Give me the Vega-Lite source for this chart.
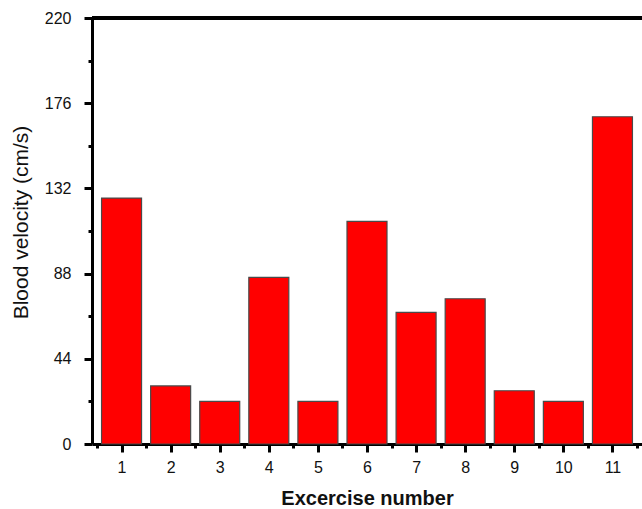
{
  "$schema": "https://vega.github.io/schema/vega-lite/v6.json",
  "width": 550,
  "height": 426,
  "autosize": {"type": "none"},
  "padding": {"left": 92, "top": 18, "right": 0, "bottom": 65},
  "background": "white",
  "config": {"view": {"stroke": null}, "font": "Liberation Sans"},
  "data": {"values": [
    {"exercise": 1, "velocity": 127},
    {"exercise": 2, "velocity": 30},
    {"exercise": 3, "velocity": 22},
    {"exercise": 4, "velocity": 86},
    {"exercise": 5, "velocity": 22},
    {"exercise": 6, "velocity": 115},
    {"exercise": 7, "velocity": 68},
    {"exercise": 8, "velocity": 75},
    {"exercise": 9, "velocity": 27.5},
    {"exercise": 10, "velocity": 22},
    {"exercise": 11, "velocity": 169}
  ]},
  "layer": [
    {
      "mark": {"type": "bar", "size": 40, "fill": "#ff0000", "stroke": "#4a4a4a", "strokeWidth": 1.2},
      "encoding": {
        "x": {
          "field": "exercise", "type": "quantitative",
          "scale": {"domain": [0.5, 11.5], "nice": false, "zero": false},
          "axis": {
            "title": "Excercise number",
            "titleFontSize": 20, "titleFontWeight": "bold", "titleColor": "#111", "titlePadding": 13,
            "values": [0.5, 1, 1.5, 2, 2.5, 3, 3.5, 4, 4.5, 5, 5.5, 6, 6.5, 7, 7.5, 8, 8.5, 9, 9.5, 10, 10.5, 11, 11.5],
            "labelExpr": "datum.value % 1 === 0 ? datum.value : ''",
            "tickSize": {"condition": {"test": "datum.value % 1 === 0", "value": 8}, "value": 4},
            "tickWidth": 3, "tickColor": "#000",
            "domainWidth": 3, "domainColor": "#000",
            "labelFontSize": 16, "labelColor": "#111", "labelPadding": 7,
            "grid": false, "labelFlush": false, "labelOverlap": false
          }
        },
        "y": {
          "field": "velocity", "type": "quantitative",
          "scale": {"domain": [0, 220], "nice": false},
          "axis": {
            "title": "Blood velocity (cm/s)",
            "titleFontSize": 21, "titleFontWeight": "normal", "titleColor": "#111", "titlePadding": 13,
            "titleY": 204,
            "values": [0, 22, 44, 66, 88, 110, 132, 154, 176, 198, 220],
            "labelExpr": "datum.value % 44 === 0 ? datum.value : ''",
            "tickSize": {"condition": {"test": "datum.value % 44 === 0", "value": 8}, "value": 4},
            "tickWidth": 3, "tickColor": "#000",
            "domainWidth": 3, "domainColor": "#000",
            "labelFontSize": 16, "labelColor": "#111", "labelPadding": 13,
            "grid": false, "labelFlush": false, "labelOverlap": false
          }
        }
      }
    },
    {
      "mark": {"type": "rule", "color": "#000", "strokeWidth": 3},
      "encoding": {"y": {"datum": 220}}
    }
  ]
}
